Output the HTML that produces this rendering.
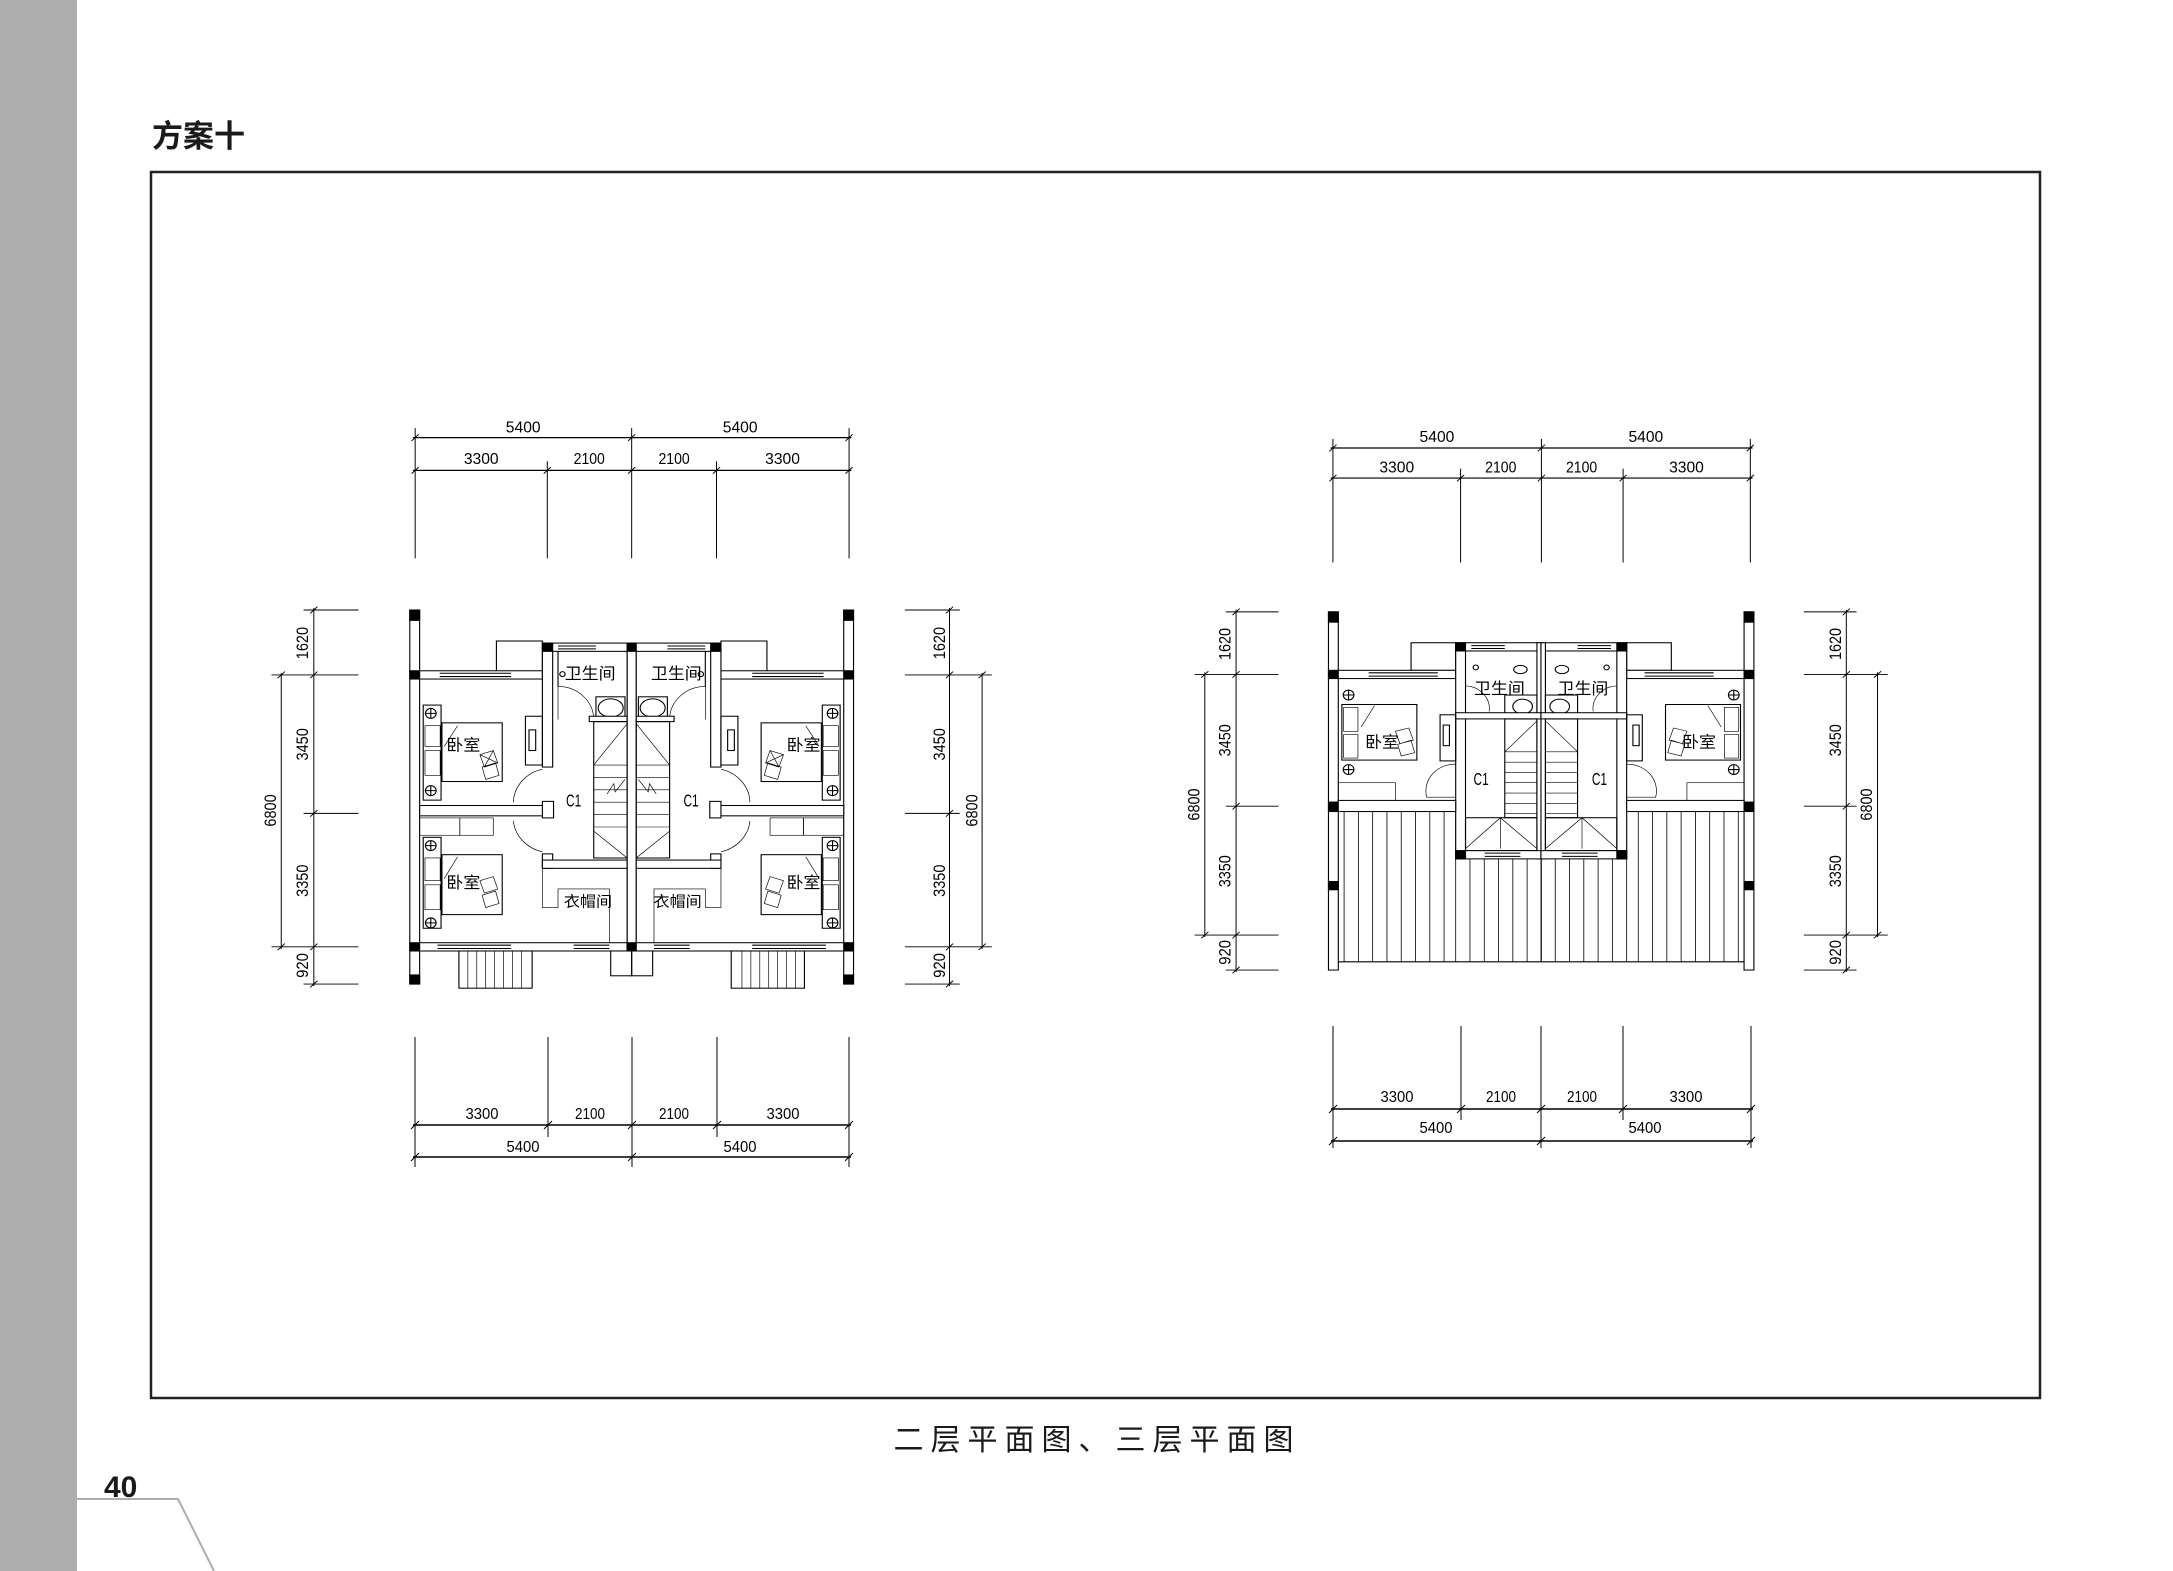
<!DOCTYPE html>
<html><head><meta charset="utf-8"><style>
html,body{margin:0;padding:0;background:#fff}
svg{display:block}
</style></head><body>
<svg width="2173" height="1571" viewBox="0 0 2173 1571" xmlns="http://www.w3.org/2000/svg" xmlns:xlink="http://www.w3.org/1999/xlink">
<rect x="0" y="0" width="77" height="1571" fill="#adadad"/>
<polyline points="77,1499 178,1499 214,1571" fill="none" stroke="#adadad" stroke-width="2"/>
<text x="104" y="1497" font-family="Liberation Sans, sans-serif" font-weight="bold" font-size="30" fill="#1a1a1a">40</text>
<text x="152" y="147" font-family="Liberation Sans, 'Noto Sans CJK SC', sans-serif" font-weight="bold" font-size="31" fill="#1a1a1a">方案十</text>
<rect x="151" y="172" width="1889" height="1226" fill="none" stroke="#222" stroke-width="2.5"/>
<text x="1097" y="1450" text-anchor="middle" font-family="'Noto Sans CJK SC', sans-serif" font-size="30" letter-spacing="7" fill="#1a1a1a">二层平面图、三层平面图</text>

<defs>
<g id="LH" fill="#fff" stroke="#000" stroke-width="2.5">
 <rect x="358" y="505" width="22" height="905"/>
 <rect x="358" y="505" width="22" height="25" fill="#000"/>
 <rect x="358" y="652" width="22" height="20" fill="#000"/>
 <rect x="358" y="1310" width="22" height="20" fill="#000"/>
 <rect x="358" y="1388" width="22" height="22" fill="#000"/>
 <rect x="552" y="580" width="103" height="82" fill="none"/>
 <rect x="655" y="585" width="200" height="20"/>
 <line x1="690" y1="592" x2="775" y2="592"/><line x1="690" y1="599" x2="775" y2="599"/>
 <rect x="655" y="585" width="23" height="20" fill="#000"/>
 <rect x="380" y="652" width="275" height="20"/>
 <line x1="425" y1="658" x2="585" y2="658"/><line x1="425" y1="666" x2="585" y2="666"/>
 <rect x="655" y="605" width="23" height="280"/>
 <line x1="690" y1="605" x2="690" y2="690"/>
 <path d="M690,690 A80,80 0 0 1 770,770" fill="none" stroke-width="1.5"/>
 <line x1="690" y1="690" x2="690" y2="770" stroke-width="1.5"/>
 <circle cx="700" cy="660" r="6" fill="none"/>
 <rect x="775" y="715" width="65" height="50" fill="none"/>
 <ellipse cx="808" cy="742" rx="28" ry="22" fill="none"/>
 <rect x="760" y="762" width="85" height="13"/>
 <rect x="770" y="775" width="75" height="330" fill="none"/>
 <path d="M770,880 H845 M770,910 H845 M770,940 H845 M770,970 H845 M770,1000 H845 M770,1030 H845" fill="none" stroke-width="1.5"/>
 <path d="M770,880 L845,780 M770,1040 L845,1105 M800,950 L815,925 L818,945 L840,915" fill="none" stroke-width="1.5"/>
 <rect x="388" y="735" width="40" height="230" fill="none"/>
 <rect x="430" y="778" width="135" height="142" fill="none"/>
 <path d="M392,785 H426 V835 H392 Z M392,845 H426 V905 H392 Z M465,785 L435,835" fill="none" stroke-width="1.5"/>
 <path d="M515,855 L545,845 L555,875 L525,885 Z M520,885 L550,875 L558,905 L528,915 Z M515,855 L555,875 M545,845 L525,885" fill="none" stroke-width="1.5"/>
 <circle cx="405" cy="755" r="12" fill="none"/><path d="M393,755 H417 M405,743 V767"/>
 <circle cx="405" cy="942" r="12" fill="none"/><path d="M393,942 H417 M405,930 V954"/>
 <rect x="617" y="762" width="38" height="118" fill="none"/>
 <rect x="625" y="795" width="15" height="50" fill="none"/>
 <path d="M655,890 A85,85 0 0 0 590,970" fill="none" stroke-width="1.5"/>
 <path d="M590,1015 A85,85 0 0 0 655,1090" fill="none" stroke-width="1.5"/>
 <rect x="380" y="978" width="285" height="25"/>
 <rect x="655" y="968" width="25" height="40"/>
 <rect x="380" y="1008" width="90" height="42" fill="none" stroke-width="1.5"/>
 <rect x="470" y="1008" width="75" height="42" fill="none" stroke-width="1.5"/>
 <rect x="388" y="1055" width="40" height="220" fill="none"/>
 <rect x="430" y="1097" width="135" height="145" fill="none"/>
 <path d="M392,1105 H426 V1160 H392 Z M392,1170 H426 V1230 H392 Z M465,1102 L435,1155" fill="none" stroke-width="1.5"/>
 <path d="M515,1160 L545,1150 L555,1180 L525,1190 Z M520,1195 L550,1185 L558,1215 L528,1225 Z" fill="none" stroke-width="1.5"/>
 <circle cx="405" cy="1075" r="12" fill="none"/><path d="M393,1075 H417 M405,1063 V1087"/>
 <circle cx="405" cy="1262" r="12" fill="none"/><path d="M393,1262 H417 M405,1250 V1274"/>
 <rect x="655" y="1095" width="23" height="35"/>
 <rect x="655" y="1110" width="190" height="20"/>
 <path d="M655,1130 V1225 H690 V1180 H805 V1310" fill="none" stroke-width="1.5"/>
 <rect x="845" y="585" width="20" height="745"/>
 <rect x="845" y="585" width="20" height="20" fill="#000"/>
 <rect x="380" y="1310" width="465" height="20"/>
 <line x1="420" y1="1316" x2="585" y2="1316"/><line x1="420" y1="1324" x2="585" y2="1324"/>
 <line x1="725" y1="1316" x2="805" y2="1316"/><line x1="725" y1="1324" x2="805" y2="1324"/>
 <rect x="845" y="1310" width="20" height="20" fill="#000"/>
 <rect x="468" y="1330" width="164" height="90" fill="none"/>
 <path d="M488,1330 V1420 M508,1330 V1420 M528,1330 V1420 M548,1330 V1420 M568,1330 V1420 M588,1330 V1420 M608,1330 V1420" fill="none" stroke-width="1.5"/>
 <rect x="808" y="1330" width="47" height="60" fill="none"/>
</g>

<g id="RH" fill="#fff" stroke="#000" stroke-width="2.5">
 <path d="M390,995 V1360 M422,995 V1360 M454,995 V1360 M486,995 V1360 M518,995 V1360 M550,995 V1360 M582,995 V1360 M614,995 V1360 M640,995 V1360 M672,1110 V1360 M704,1110 V1360 M736,1110 V1360 M768,1110 V1360 M800,1110 V1360 M832,1110 V1360" fill="none" stroke-width="1.8"/>
 <line x1="377" y1="1360" x2="832" y2="1360"/>
 <line x1="377" y1="995" x2="640" y2="995"/>
 <rect x="355" y="510" width="22" height="870"/>
 <rect x="355" y="510" width="22" height="25" fill="#000"/>
 <rect x="355" y="652" width="22" height="20" fill="#000"/>
 <rect x="355" y="972" width="22" height="23" fill="#000"/>
 <rect x="355" y="1165" width="22" height="20" fill="#000"/>
 <rect x="540" y="585" width="100" height="67" fill="none"/>
 <rect x="640" y="585" width="192" height="20"/>
 <line x1="675" y1="592" x2="750" y2="592"/><line x1="675" y1="599" x2="750" y2="599"/>
 <rect x="640" y="585" width="22" height="20" fill="#000"/>
 <rect x="377" y="652" width="263" height="20"/>
 <line x1="445" y1="658" x2="600" y2="658"/><line x1="445" y1="666" x2="600" y2="666"/>
 <rect x="640" y="605" width="22" height="505"/>
 <rect x="822" y="585" width="10" height="525"/>
 <circle cx="685" cy="645" r="6" fill="none"/>
 <ellipse cx="785" cy="650" rx="15" ry="10" fill="none"/>
 <rect x="750" y="712" width="72" height="48" fill="none"/>
 <ellipse cx="790" cy="740" rx="22" ry="18" fill="none"/>
 <path d="M715,752 A55,55 0 0 0 662,690" fill="none" stroke-width="1.5"/>
 <rect x="640" y="755" width="192" height="15"/>
 <rect x="605" y="760" width="35" height="112" fill="none"/>
 <rect x="612" y="785" width="14" height="50" fill="none"/>
 <path d="M640,880 A65,65 0 0 0 575,960 H640" fill="none" stroke-width="1.5"/>
 <rect x="385" y="735" width="168" height="135" fill="none"/>
 <path d="M389,742 H421 V800 H389 Z M389,808 H421 V865 H389 Z M458,738 L428,790" fill="none" stroke-width="1.5"/>
 <path d="M505,800 L535,792 L545,822 L515,830 Z M510,832 L540,822 L548,852 L518,860 Z" fill="none" stroke-width="1.5"/>
 <circle cx="400" cy="712" r="12" fill="none"/><path d="M388,712 H412 M400,700 V724"/>
 <circle cx="400" cy="893" r="12" fill="none"/><path d="M388,893 H412 M400,881 V905"/>
 <rect x="377" y="925" width="128" height="43" fill="none" stroke-width="1.5"/>
 <rect x="377" y="968" width="263" height="27"/>
 <rect x="750" y="770" width="72" height="240" fill="none"/>
 <path d="M750,850 H822 M750,875 H822 M750,900 H822 M750,925 H822 M750,950 H822 M750,975 H822 M750,1000 H822 M750,850 L822,775" fill="none" stroke-width="1.5"/>
 <rect x="662" y="1010" width="160" height="80" fill="none"/>
 <path d="M662,1085 L740,1010 L822,1085 M740,1010 V1085" fill="none" stroke-width="1.5"/>
 <rect x="640" y="1090" width="192" height="20"/>
 <line x1="705" y1="1096" x2="785" y2="1096"/><line x1="705" y1="1104" x2="785" y2="1104"/>
 <rect x="640" y="1090" width="22" height="20" fill="#000"/>
</g>
</defs>

<!-- LEFT PLAN -->
<g transform="translate(250,401.3) scale(0.4464,0.4133)">
 <use xlink:href="#LH"/>
 <use xlink:href="#LH" transform="translate(1710,0) scale(-1,1)"/>
 <g font-family="'Liberation Sans', 'Noto Sans CJK SC', sans-serif" font-size="38" fill="#000" text-anchor="middle">
  <text x="762" y="672">卫生间</text><text x="955" y="672">卫生间</text>
  <text x="478" y="845">卧室</text><text x="1240" y="845">卧室</text>
  <text x="478" y="1178">卧室</text><text x="1240" y="1178">卧室</text>
  <text x="757" y="1222" font-size="36">衣帽间</text><text x="958" y="1222" font-size="36">衣帽间</text>
  <text x="725" y="980" font-size="42" textLength="34" lengthAdjust="spacingAndGlyphs">C1</text>
  <text x="988" y="980" font-size="42" textLength="34" lengthAdjust="spacingAndGlyphs">C1</text>
 </g>
 <g stroke="#000" stroke-width="2.2" fill="none">
  <path d="M370,65 V380 M666,145 V380 M855,65 V380 M1045,145 V380 M1342,65 V380"/>
  <path d="M365,88 H1347 M365,167 H1347" stroke-width="3"/>
  <path d="M362,96 L378,80 M847,96 L863,80 M1334,96 L1350,80 M362,175 L378,159 M658,175 L674,159 M847,175 L863,159 M1037,175 L1053,159 M1334,175 L1350,159"/>
  <path d="M143,500 V1415 M70,657 V1325 M120,505 H243 M48,662 H243 M120,997 H243 M48,1320 H243 M120,1410 H243"/>
  <path d="M135,513 L151,497 M135,670 L151,654 M62,670 L78,654 M135,1005 L151,989 M135,1328 L151,1312 M62,1328 L78,1312 M135,1418 L151,1402"/>
  <path d="M1567,500 V1415 M1640,657 V1325 M1467,505 H1590 M1467,662 H1662 M1467,997 H1590 M1467,1320 H1662 M1467,1410 H1590"/>
  <path d="M1559,513 L1575,497 M1559,670 L1575,654 M1632,670 L1648,654 M1559,1005 L1575,989 M1559,1328 L1575,1312 M1632,1328 L1648,1312 M1559,1418 L1575,1402"/>
 </g>
 <g font-family="'Liberation Sans', sans-serif" font-size="38" fill="#000" text-anchor="middle">
  <text x="612" y="75" textLength="78" lengthAdjust="spacingAndGlyphs">5400</text>
  <text x="1098" y="75" textLength="78" lengthAdjust="spacingAndGlyphs">5400</text>
  <text x="518" y="152" textLength="78" lengthAdjust="spacingAndGlyphs">3300</text>
  <text x="760" y="152" textLength="70" lengthAdjust="spacingAndGlyphs">2100</text>
  <text x="950" y="152" textLength="70" lengthAdjust="spacingAndGlyphs">2100</text>
  <text x="1193" y="152" textLength="78" lengthAdjust="spacingAndGlyphs">3300</text>
  <text transform="translate(130,585) rotate(-90)" textLength="78" lengthAdjust="spacingAndGlyphs">1620</text>
  <text transform="translate(130,830) rotate(-90)" textLength="78" lengthAdjust="spacingAndGlyphs">3450</text>
  <text transform="translate(130,1160) rotate(-90)" textLength="78" lengthAdjust="spacingAndGlyphs">3350</text>
  <text transform="translate(130,1365) rotate(-90)" textLength="60" lengthAdjust="spacingAndGlyphs">920</text>
  <text transform="translate(58,990) rotate(-90)" textLength="78" lengthAdjust="spacingAndGlyphs">6800</text>
  <text transform="translate(1557,585) rotate(-90)" textLength="78" lengthAdjust="spacingAndGlyphs">1620</text>
  <text transform="translate(1557,830) rotate(-90)" textLength="78" lengthAdjust="spacingAndGlyphs">3450</text>
  <text transform="translate(1557,1160) rotate(-90)" textLength="78" lengthAdjust="spacingAndGlyphs">3350</text>
  <text transform="translate(1557,1365) rotate(-90)" textLength="60" lengthAdjust="spacingAndGlyphs">920</text>
  <text transform="translate(1630,990) rotate(-90)" textLength="78" lengthAdjust="spacingAndGlyphs">6800</text>
 </g>
</g>

<!-- RIGHT PLAN -->
<g transform="translate(1170,401.9) scale(0.4464,0.4117)">
 <use xlink:href="#RH"/>
 <use xlink:href="#RH" transform="translate(1663,0) scale(-1,1)"/>
 <g font-family="'Liberation Sans', 'Noto Sans CJK SC', sans-serif" font-size="38" fill="#000" text-anchor="middle">
  <text x="738" y="710">卫生间</text><text x="925" y="710">卫生间</text>
  <text x="475" y="840">卧室</text><text x="1185" y="840">卧室</text>
  <text x="697" y="930" font-size="42" textLength="34" lengthAdjust="spacingAndGlyphs">C1</text>
  <text x="962" y="930" font-size="42" textLength="34" lengthAdjust="spacingAndGlyphs">C1</text>
 </g>
 <g stroke="#000" stroke-width="2.2" fill="none">
  <path d="M365,90 V390 M651,162 V390 M832,90 V390 M1015,162 V390 M1300,90 V390"/>
  <path d="M360,112 H1305 M360,185 H1305" stroke-width="3"/>
  <path d="M357,120 L373,104 M824,120 L840,104 M1292,120 L1308,104 M357,193 L373,177 M643,193 L659,177 M824,193 L840,177 M1007,193 L1023,177 M1292,193 L1308,177"/>
  <path d="M148,505 V1385 M78,657 V1300 M125,510 H243 M55,662 H243 M125,982 H243 M55,1295 H243 M125,1380 H243"/>
  <path d="M140,518 L156,502 M140,670 L156,654 M70,670 L86,654 M140,990 L156,974 M140,1303 L156,1287 M70,1303 L86,1287 M140,1388 L156,1372"/>
  <path d="M1515,505 V1385 M1585,657 V1300 M1420,510 H1538 M1420,662 H1608 M1420,982 H1538 M1420,1295 H1608 M1420,1380 H1538"/>
  <path d="M1507,518 L1523,502 M1507,670 L1523,654 M1577,670 L1593,654 M1507,990 L1523,974 M1507,1303 L1523,1287 M1577,1303 L1593,1287 M1507,1388 L1523,1372"/>
 </g>
 <g font-family="'Liberation Sans', sans-serif" font-size="38" fill="#000" text-anchor="middle">
  <text x="598" y="98" textLength="78" lengthAdjust="spacingAndGlyphs">5400</text>
  <text x="1066" y="98" textLength="78" lengthAdjust="spacingAndGlyphs">5400</text>
  <text x="508" y="172" textLength="78" lengthAdjust="spacingAndGlyphs">3300</text>
  <text x="741" y="172" textLength="70" lengthAdjust="spacingAndGlyphs">2100</text>
  <text x="922" y="172" textLength="70" lengthAdjust="spacingAndGlyphs">2100</text>
  <text x="1157" y="172" textLength="78" lengthAdjust="spacingAndGlyphs">3300</text>
  <text transform="translate(136,588) rotate(-90)" textLength="78" lengthAdjust="spacingAndGlyphs">1620</text>
  <text transform="translate(136,822) rotate(-90)" textLength="78" lengthAdjust="spacingAndGlyphs">3450</text>
  <text transform="translate(136,1140) rotate(-90)" textLength="78" lengthAdjust="spacingAndGlyphs">3350</text>
  <text transform="translate(136,1337) rotate(-90)" textLength="60" lengthAdjust="spacingAndGlyphs">920</text>
  <text transform="translate(66,978) rotate(-90)" textLength="78" lengthAdjust="spacingAndGlyphs">6800</text>
  <text transform="translate(1503,588) rotate(-90)" textLength="78" lengthAdjust="spacingAndGlyphs">1620</text>
  <text transform="translate(1503,822) rotate(-90)" textLength="78" lengthAdjust="spacingAndGlyphs">3450</text>
  <text transform="translate(1503,1140) rotate(-90)" textLength="78" lengthAdjust="spacingAndGlyphs">3350</text>
  <text transform="translate(1503,1337) rotate(-90)" textLength="60" lengthAdjust="spacingAndGlyphs">920</text>
  <text transform="translate(1573,978) rotate(-90)" textLength="78" lengthAdjust="spacingAndGlyphs">6800</text>
 </g>
</g>

<!-- bottom dims -->
<g stroke="#000" stroke-width="1" fill="none">
 <path d="M415,1037 V1167 M548,1037 V1137 M632,1037 V1167 M717,1037 V1137 M849,1037 V1167"/>
 <path d="M413,1125 H851 M413,1157 H851" stroke-width="1.4"/>
 <path d="M411,1129 L419,1121 M544,1129 L552,1121 M628,1129 L636,1121 M713,1129 L721,1121 M845,1129 L853,1121 M411,1161 L419,1153 M628,1161 L636,1153 M845,1161 L853,1153"/>
 <path d="M1333,1026 V1148 M1461,1026 V1120 M1541,1026 V1148 M1623,1026 V1120 M1751,1026 V1148"/>
 <path d="M1331,1109 H1753 M1331,1141 H1753" stroke-width="1.4"/>
 <path d="M1329,1113 L1337,1105 M1457,1113 L1465,1105 M1537,1113 L1545,1105 M1619,1113 L1627,1105 M1747,1113 L1755,1105 M1329,1145 L1337,1137 M1537,1145 L1545,1137 M1747,1145 L1755,1137"/>
</g>
<g font-family="'Liberation Sans', sans-serif" font-size="16" fill="#000" text-anchor="middle">
 <text x="482" y="1119" textLength="33" lengthAdjust="spacingAndGlyphs">3300</text>
 <text x="590" y="1119" textLength="30" lengthAdjust="spacingAndGlyphs">2100</text>
 <text x="674" y="1119" textLength="30" lengthAdjust="spacingAndGlyphs">2100</text>
 <text x="783" y="1119" textLength="33" lengthAdjust="spacingAndGlyphs">3300</text>
 <text x="523" y="1152" textLength="33" lengthAdjust="spacingAndGlyphs">5400</text>
 <text x="740" y="1152" textLength="33" lengthAdjust="spacingAndGlyphs">5400</text>
 <text x="1397" y="1102" textLength="33" lengthAdjust="spacingAndGlyphs">3300</text>
 <text x="1501" y="1102" textLength="30" lengthAdjust="spacingAndGlyphs">2100</text>
 <text x="1582" y="1102" textLength="30" lengthAdjust="spacingAndGlyphs">2100</text>
 <text x="1686" y="1102" textLength="33" lengthAdjust="spacingAndGlyphs">3300</text>
 <text x="1436" y="1133" textLength="33" lengthAdjust="spacingAndGlyphs">5400</text>
 <text x="1645" y="1133" textLength="33" lengthAdjust="spacingAndGlyphs">5400</text>
</g>
</svg>
</body></html>
